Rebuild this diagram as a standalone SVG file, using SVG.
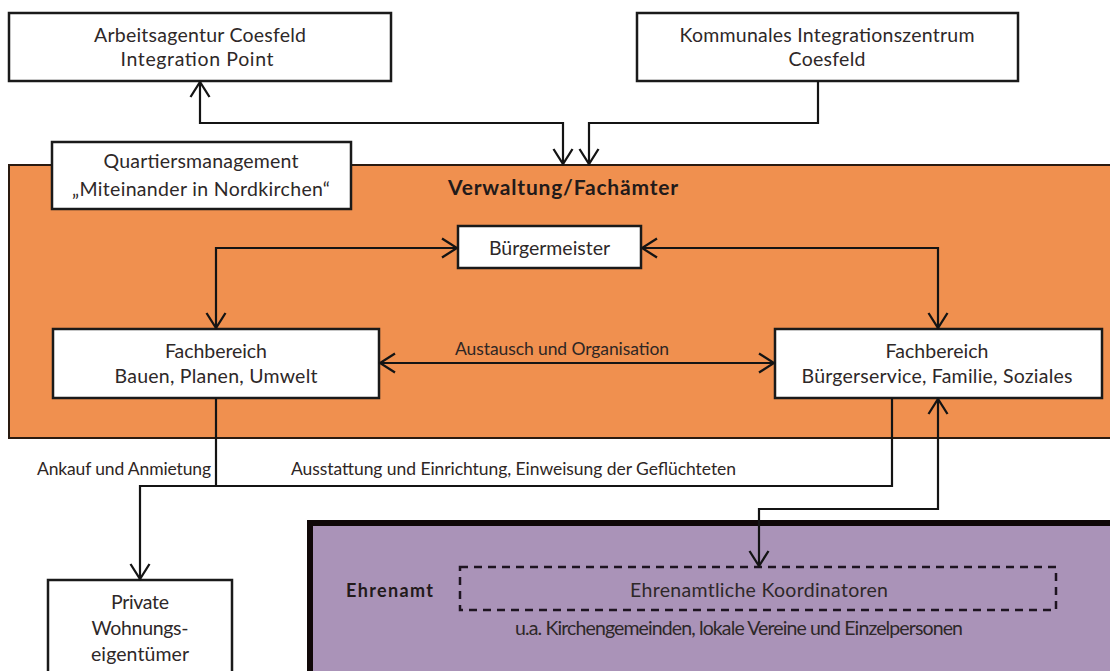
<svg xmlns="http://www.w3.org/2000/svg" width="1110" height="671" viewBox="0 0 1110 671">
<style>
  .box{fill:#fff;stroke:#1a1a1a;stroke-width:2.5}
  .t{font-family:Lato,"Liberation Sans",sans-serif;font-size:19.5px;fill:#2e2828;text-anchor:middle}
  .lbl{font-family:Lato,"Liberation Sans",sans-serif;font-size:17.5px;fill:#2e2624}
  .b{font-family:Lato,"Liberation Sans",sans-serif;font-weight:bold;fill:#221a1a}
  .c{fill:none;stroke:#141414;stroke-width:2.2}
</style>
<defs>
  <marker id="ah" viewBox="-17 -12 19 24" refX="0" refY="0" markerWidth="19" markerHeight="24" markerUnits="userSpaceOnUse" orient="auto-start-reverse">
    <path d="M-15,-9.5 L0,0 L-15,9.5" fill="none" stroke="#141414" stroke-width="2.3"/>
  </marker>
</defs>
<rect width="1110" height="671" fill="#fff"/>

<g id="verwaltung">
  <rect x="9" y="165" width="1110" height="273" fill="#F0904F" stroke="#2a1a10" stroke-width="2"/>
  <text class="b" x="563" y="195" font-size="21" text-anchor="middle" textLength="230">Verwaltung/Fachämter</text>
</g>

<g id="ehrenamt">
  <rect x="310" y="523" width="810" height="160" fill="#AA93B8" stroke="#100808" stroke-width="6"/>
  <text class="b" x="346" y="597" font-size="18" textLength="87">Ehrenamt</text>
</g>

<g id="arbeitsagentur">
  <rect class="box" x="9" y="13" width="382" height="68"/>
  <text class="t" x="200" y="42" textLength="212">Arbeitsagentur  Coesfeld</text>
  <text class="t" x="197" y="66" textLength="153">Integration Point</text>
</g>

<g id="kommunales">
  <rect class="box" x="637" y="13" width="381" height="68"/>
  <text class="t" x="827" y="42" textLength="295">Kommunales Integrationszentrum</text>
  <text class="t" x="827" y="66" textLength="77">Coesfeld</text>
</g>

<g id="quartiersmanagement">
  <rect class="box" x="52" y="142" width="299" height="67"/>
  <text class="t" x="201" y="168" textLength="195">Quartiersmanagement</text>
  <text class="t" x="201" y="196" textLength="258">„Miteinander in Nordkirchen“</text>
</g>

<g id="buergermeister">
  <rect class="box" x="458" y="226" width="183" height="42"/>
  <text class="t" x="549.5" y="255" textLength="121">Bürgermeister</text>
</g>

<g id="fb-bauen">
  <rect class="box" x="53" y="329" width="326" height="69"/>
  <text class="t" x="216" y="358" textLength="102">Fachbereich</text>
  <text class="t" x="216" y="383" textLength="203">Bauen, Planen, Umwelt</text>
</g>

<g id="fb-buergerservice">
  <rect class="box" x="775" y="329" width="327" height="69"/>
  <text class="t" x="937" y="358" textLength="103">Fachbereich</text>
  <text class="t" x="937" y="383" textLength="271">Bürgerservice, Familie, Soziales</text>
</g>

<g id="private">
  <rect class="box" x="48" y="580" width="184" height="100"/>
  <text class="t" x="140" y="609" textLength="58">Private</text>
  <text class="t" x="140" y="635" textLength="97">Wohnungs-</text>
  <text class="t" x="140" y="661" textLength="98">eigentümer</text>
</g>

<g id="koordinatoren">
  <rect x="460" y="567" width="596" height="43" fill="none" stroke="#1e1420" stroke-width="2.5" stroke-dasharray="8 6"/>
  <text class="t" x="759" y="597" textLength="258">Ehrenamtliche Koordinatoren</text>
  <text class="t" x="739" y="635" font-size="16.5" textLength="448">u.a. Kirchengemeinden, lokale Vereine und Einzelpersonen</text>
</g>

<g id="connectors">
  <path class="c" d="M563,164 V123 H200 V82" marker-start="url(#ah)" marker-end="url(#ah)"/>
  <path class="c" d="M818,81 V123 H589 V164" marker-end="url(#ah)"/>
  <path class="c" d="M457,248 H216 V328" marker-start="url(#ah)" marker-end="url(#ah)"/>
  <path class="c" d="M642,248 H938 V328" marker-start="url(#ah)" marker-end="url(#ah)"/>
  <path class="c" d="M380,363 H774" marker-start="url(#ah)" marker-end="url(#ah)"/>
  <path class="c" d="M216,398 V486 H140 V579" marker-end="url(#ah)"/>
  <path class="c" d="M892,398 V486 H216"/>
  <path class="c" d="M938,399 V509 H759 V566" marker-start="url(#ah)" marker-end="url(#ah)"/>
  <text class="lbl" x="455" y="355" textLength="214">Austausch und Organisation</text>
  <text class="lbl" x="37" y="475" textLength="174">Ankauf und Anmietung</text>
  <text class="lbl" x="291" y="475" textLength="445">Ausstattung und Einrichtung, Einweisung der Geflüchteten</text>
</g>
</svg>
